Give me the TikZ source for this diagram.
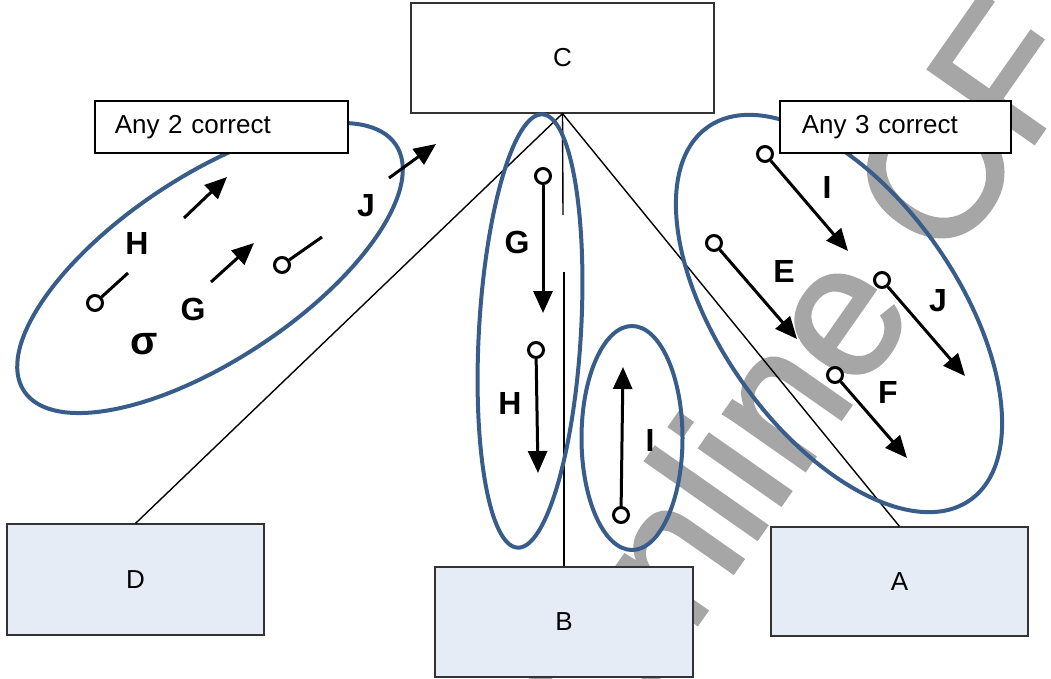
\documentclass[tikz,border=0pt]{standalone}
\usepackage{fontspec}
\setmainfont{Liberation Sans}
\newfontfamily\wmfont[FakeBold=1.6]{Liberation Sans}
\usetikzlibrary{arrows.meta}
\definecolor{ellblue}{RGB}{56,93,138}
\definecolor{boxfill}{RGB}{230,236,246}
\definecolor{wmgray}{RGB}{166,166,166}
\begin{document}
\begin{tikzpicture}[x=1pt,y=-1pt,
  boxfont/.style={font=\fontsize{26}{30}\selectfont},
  topbox/.style={boxfont, draw=black!80, fill=white, line width=1.2pt},
  bluebox/.style={boxfont, draw=black!80, fill=boxfill, line width=1.2pt},
  tagbox/.style={boxfont, draw=black, fill=white, line width=1.5pt, align=left, anchor=west, minimum height=52pt},
  ell/.style={draw=ellblue, line width=4pt},
  conn/.style={draw=black, line width=1.4pt},
  pin/.style={circle, draw=black, fill=white, line width=3pt, inner sep=0pt, minimum size=15pt},
  arr/.style={line width=3pt, -{Triangle[length=22pt,width=19pt]}},
  seg/.style={line width=3pt},
  lbl/.style={font=\fontsize{32}{36}\selectfont\bfseries},
  wm/.style={text=wmgray, font=\wmfont\fontsize{188}{200}\selectfont}
]
\useasboundingbox (0,0) rectangle (1051,679);
% watermark
\begin{scope}
  \clip (0,0) rectangle (1051,679);
  \node[wm, rotate=55, anchor=base west, inner sep=0pt] (wmark) at (606,755) {Online CF};
\end{scope}

% main boxes
\node[topbox, minimum width=303pt, minimum height=110pt] (C) at (562.5,58) {C};
\node[bluebox, minimum width=257pt, minimum height=111pt] (D) at (135.5,579.5) {D};
\node[bluebox, minimum width=258pt, minimum height=110pt] (B) at (564,622) {B};
\node[bluebox, minimum width=257pt, minimum height=109pt] (A) at (899.5,581.5) {A};

% connectors
\coordinate (gapT) at (563,215);
\coordinate (gapB) at (564,272);
\draw[conn] (C.south) -- (D.north);
\draw[conn] (C.south) -- (gapT);
\draw[conn] (gapB) -- (B.north);
\draw[conn] (C.south) -- (A.north);

% ellipses
\draw[ell, rotate around={33.5:(210,268)}] (210,268) ellipse [x radius=223, y radius=92];
\draw[ell, rotate around={86.7:(530,331)}] (530,331) ellipse [x radius=217, y radius=51];
\draw[ell] (632,438) ellipse [x radius=50.5, y radius=112];
\draw[ell, rotate around={-54.9:(839,313.5)}] (839,313.5) ellipse [x radius=228, y radius=118.6];

% left group (Any 2 correct)
\node[pin] (lH) at (95,303) {};
\coordinate (lHe) at (128,273);
\draw[seg] (lH) -- (lHe);
\coordinate (lHs) at (184,218);
\coordinate (lHt) at (227,177);
\draw[arr] (lHs) -- (lHt);
\node[lbl] (lHl) at (137,243) {H};
\coordinate (lGs) at (211,282);
\coordinate (lGt) at (254,243);
\draw[arr] (lGs) -- (lGt);
\node[lbl] (lGl) at (193,309) {G};
\node[lbl, font=\fontsize{40}{44}\selectfont\bfseries] (lsig) at (144,344) {σ};
\node[pin] (lJ) at (282,265) {};
\coordinate (lJe) at (322,237);
\draw[seg] (lJ) -- (lJe);
\coordinate (lJs) at (389,178);
\coordinate (lJt) at (436,144);
\draw[arr] (lJs) -- (lJt);
\node[lbl] (lJl) at (366,206) {J};

% centre group
\node[pin] (cG) at (543,176) {};
\coordinate (cGt) at (543,313);
\draw[arr] (cG) -- (cGt);
\node[lbl] (cGl) at (517,242) {G};
\node[pin] (cH) at (536,350) {};
\coordinate (cHt) at (538,473);
\draw[arr] (cH) -- (cHt);
\node[lbl] (cHl) at (510,403) {H};
\node[pin] (cI) at (621,515) {};
\coordinate (cIt) at (623,367);
\draw[arr] (cI) -- (cIt);
\node[lbl] (cIl) at (650,440) {I};

% right group (Any 3 correct)
\node[pin] (rI) at (765,154) {};
\coordinate (rIt) at (848,251);
\draw[arr] (rI) -- (rIt);
\node[lbl] (rIl) at (827,187) {I};
\node[pin] (rE) at (714,243) {};
\coordinate (rEt) at (797,339);
\draw[arr] (rE) -- (rEt);
\node[lbl] (rEl) at (784,271) {E};
\node[pin] (rJ) at (882,280) {};
\coordinate (rJt) at (965,376);
\draw[arr] (rJ) -- (rJt);
\node[lbl] (rJl) at (938,301) {J};
\node[pin] (rF) at (835,375) {};
\coordinate (rFt) at (907,458);
\draw[arr] (rF) -- (rFt);
\node[lbl] (rFl) at (888,392) {F};

% tag boxes
\node[tagbox, inner xsep=20pt, text width=213pt] (any2) at (94,127) {Any 2 correct};
\node[tagbox, inner xsep=22pt, text width=187pt] (any3) at (779,127) {Any 3 correct};
\end{tikzpicture}
\end{document}
